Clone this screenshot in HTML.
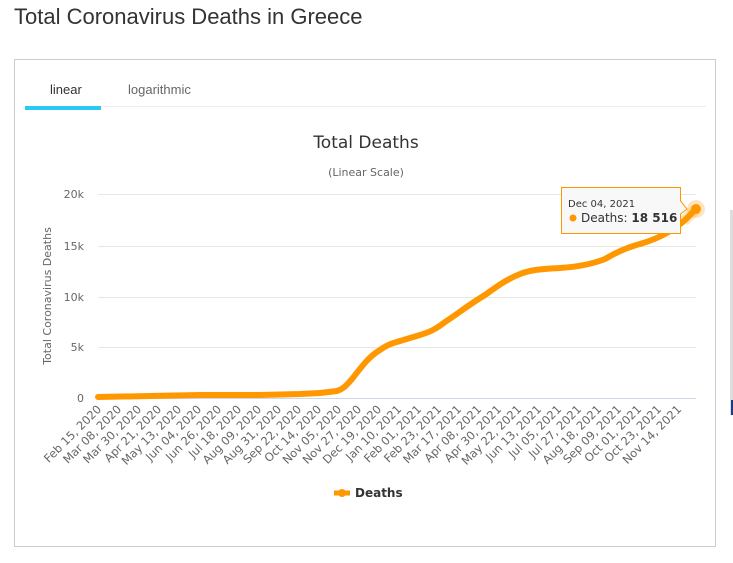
<!DOCTYPE html>
<html><head><meta charset="utf-8"><style>
body{margin:0;width:733px;height:563px;background:#fff;overflow:hidden;font-family:"Liberation Sans",sans-serif;position:relative}
h1{position:absolute;left:14px;top:4px;margin:0;font-weight:normal;font-size:22px;color:#333}
.panel{position:absolute;left:14px;top:59px;width:702px;height:488px;border:1px solid #ccc;box-sizing:border-box}
.tab{position:absolute;top:82px;font-size:13px}
</style></head><body>
<h1>Total Coronavirus Deaths in Greece</h1>
<div class="panel"></div>
<div class="tab" style="left:50px;color:#333">linear</div>
<div class="tab" style="left:128px;color:#666">logarithmic</div>
<div style="position:absolute;left:25px;top:106px;width:681px;height:1px;background:#eee"></div>
<div style="position:absolute;left:25px;top:106px;width:76px;height:4px;background:#2bc9f2"></div>
<div style="position:absolute;left:730px;top:210px;width:3px;height:205px;background:#ddd"></div>
<div style="position:absolute;left:731px;top:400px;width:2px;height:15px;background:#1a3a8a"></div>
<svg width="733" height="563" style="position:absolute;left:0;top:0" font-family="'DejaVu Sans',sans-serif">
<text x="366" y="148" text-anchor="middle" font-size="17" fill="#333">Total Deaths</text>
<text x="366" y="176" text-anchor="middle" font-size="11" fill="#666">(Linear Scale)</text>
<g stroke="#e6e6e6" stroke-width="1">
<line x1="98" x2="696" y1="194.5" y2="194.5"/><line x1="98" x2="696" y1="246.5" y2="246.5"/>
<line x1="98" x2="696" y1="297.5" y2="297.5"/><line x1="98" x2="696" y1="347.5" y2="347.5"/>
</g>
<line x1="98" x2="696" y1="398.5" y2="398.5" stroke="#ccd6eb"/>
<g font-size="11" fill="#666" text-anchor="end">
<text x="84" y="198">20k</text><text x="84" y="250">15k</text><text x="84" y="301">10k</text><text x="84" y="351">5k</text><text x="84" y="402">0</text>
</g>
<text transform="translate(51,296) rotate(-90)" text-anchor="middle" font-size="11" fill="#666">Total Coronavirus Deaths</text>
<path d="M98,397 L150,396 L200,395 L260,395 L300,394 L320,393 L337,391 C343,389 346,386 352,379 C360,369 368,357 380,350 C388,344 394,343 400,341 L420,335 C430,332 436,329 445,322 C460,312 470,304 485,295 C495,288 505,280 520,274 C530,270 540,269 560,268 C575,267 590,265 605,259 C615,253 625,248 640,244 C660,238 670,232 684,221 L696,209" fill="none" stroke="#ff9800" stroke-width="6" stroke-linejoin="round" stroke-linecap="round"/>
<line x1="684" y1="221" x2="696" y2="209" stroke="#ff9800" stroke-opacity=".25" stroke-width="11"/>
<circle cx="696" cy="209" r="9" fill="#ff9800" fill-opacity=".25"/>
<circle cx="696" cy="209" r="5" fill="#ff9800"/>
<path d="M561.5,187.5 H680.5 V201 L687,209 L680.5,214 V233.5 H561.5 Z" fill="#f8f8f8" stroke="#ff9800" stroke-width="1"/>
<text x="568" y="207" font-size="10" fill="#333">Dec 04, 2021</text>
<circle cx="573" cy="218" r="3.5" fill="#ff9800"/>
<text x="581" y="222" font-size="12" fill="#333">Deaths: <tspan font-weight="bold">18 516</tspan></text>
<g font-size="11.5" fill="#666" text-anchor="end">
<text transform="translate(102,410) rotate(-45)">Feb 15, 2020</text>
<text transform="translate(122,410) rotate(-45)">Mar 08, 2020</text>
<text transform="translate(142,410) rotate(-45)">Mar 30, 2020</text>
<text transform="translate(162,410) rotate(-45)">Apr 21, 2020</text>
<text transform="translate(182,410) rotate(-45)">May 13, 2020</text>
<text transform="translate(202,410) rotate(-45)">Jun 04, 2020</text>
<text transform="translate(222,410) rotate(-45)">Jun 26, 2020</text>
<text transform="translate(242,410) rotate(-45)">Jul 18, 2020</text>
<text transform="translate(262,410) rotate(-45)">Aug 09, 2020</text>
<text transform="translate(282,410) rotate(-45)">Aug 31, 2020</text>
<text transform="translate(302,410) rotate(-45)">Sep 22, 2020</text>
<text transform="translate(322,410) rotate(-45)">Oct 14, 2020</text>
<text transform="translate(342,410) rotate(-45)">Nov 05, 2020</text>
<text transform="translate(362,410) rotate(-45)">Nov 27, 2020</text>
<text transform="translate(382,410) rotate(-45)">Dec 19, 2020</text>
<text transform="translate(402,410) rotate(-45)">Jan 10, 2021</text>
<text transform="translate(422,410) rotate(-45)">Feb 01, 2021</text>
<text transform="translate(442,410) rotate(-45)">Feb 23, 2021</text>
<text transform="translate(462,410) rotate(-45)">Mar 17, 2021</text>
<text transform="translate(482,410) rotate(-45)">Apr 08, 2021</text>
<text transform="translate(502,410) rotate(-45)">Apr 30, 2021</text>
<text transform="translate(522,410) rotate(-45)">May 22, 2021</text>
<text transform="translate(542,410) rotate(-45)">Jun 13, 2021</text>
<text transform="translate(562,410) rotate(-45)">Jul 05, 2021</text>
<text transform="translate(582,410) rotate(-45)">Jul 27, 2021</text>
<text transform="translate(602,410) rotate(-45)">Aug 18, 2021</text>
<text transform="translate(622,410) rotate(-45)">Sep 09, 2021</text>
<text transform="translate(642,410) rotate(-45)">Oct 01, 2021</text>
<text transform="translate(662,410) rotate(-45)">Oct 23, 2021</text>
<text transform="translate(682,410) rotate(-45)">Nov 14, 2021</text>
</g>
<line x1="334" x2="350" y1="493" y2="493" stroke="#ff9800" stroke-width="5"/>
<circle cx="342" cy="493" r="4" fill="#ff9800"/>
<text x="355" y="497" font-size="12" font-weight="bold" fill="#333">Deaths</text>
</svg>
</body></html>
